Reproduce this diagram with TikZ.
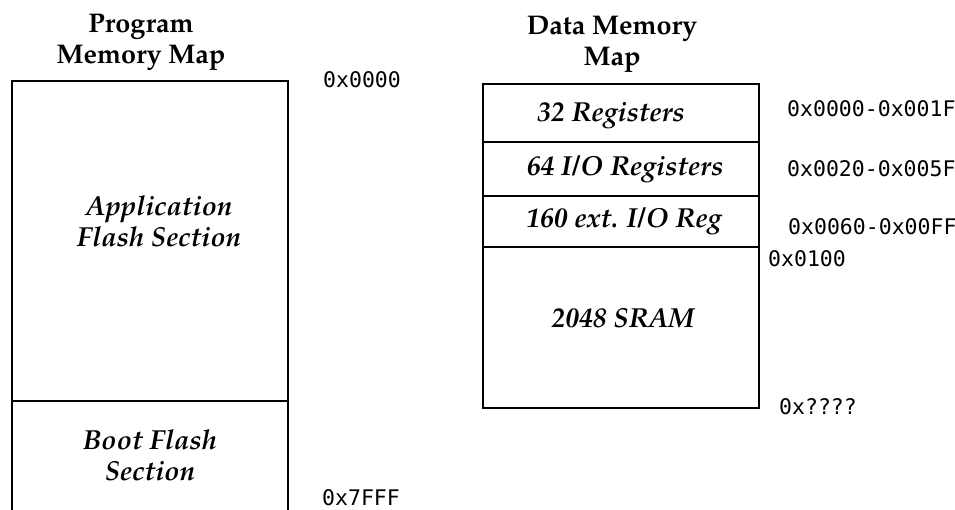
\documentclass[tikz,border=0pt]{standalone}
\usepackage[T1]{fontenc}
\usepackage{fontspec}
\newfontfamily\addrfont{DejaVu Sans Mono}
\newcommand\palfont{\fontencoding{T1}\fontfamily{ppl}\selectfont}
\begin{document}
\begin{tikzpicture}[x=1pt,y=-1pt,
  boxline/.style={line width=2pt, line cap=rect},
  divline/.style={line width=1.6pt},
  title/.style={font=\palfont\bfseries\fontsize{27}{31}\selectfont, align=center, inner sep=0pt},
  seclabel/.style={font=\palfont\bfseries\itshape\fontsize{27.5}{31}\selectfont, align=center, inner sep=0pt},
  reglabel/.style={font=\palfont\bfseries\itshape\fontsize{27.5}{31}\selectfont, inner sep=0pt, anchor=base},
  addr/.style={font=\addrfont\fontsize{21.5}{25}\selectfont, inner sep=0pt, anchor=base west}]
\useasboundingbox (0,0) rectangle (955,509);
% Program memory
\draw[boxline] (12,509) -- (12,81) -- (288,81) -- (288,509);
\draw[divline] (12,401) -- (288,401);
% Data memory
\draw[boxline] (483,84) rectangle (759,408);
\draw[divline] (483,142) -- (759,142);
\draw[divline] (483,196) -- (759,196);
\draw[divline] (483,247) -- (759,247);
% titles
\node[title] (ptitle) at (141,42) {Program\\Memory Map};
\node[title] (dtitle) at (612,44.5) {Data Memory\\Map};
% sections
\node[seclabel] (app) at (159,221) {Application\\Flash Section};
\node[seclabel] (boot) at (150,455) {Boot Flash\\Section};
\node[reglabel] (r32) at (611,121) {32 Registers};
\node[reglabel] (r64) at (625,175) {64 I/O Registers};
\node[reglabel] (r160) at (624,227) {160 ext. I/O Reg};
\node[reglabel] (sram) at (623,327) {2048 SRAM};
% addresses
\node[addr] (a0) at (323,87) {0x0000};
\node[addr] (a7) at (322,505) {0x7FFF};
\node[addr] (d1) at (787,116) {0x0000-0x001F};
\node[addr] (d2) at (787,176) {0x0020-0x005F};
\node[addr] (d3) at (788,234) {0x0060-0x00FF};
\node[addr] (d4) at (768,266) {0x0100};
\node[addr] (d5) at (779,414) {0x????};
\end{tikzpicture}
\end{document}
